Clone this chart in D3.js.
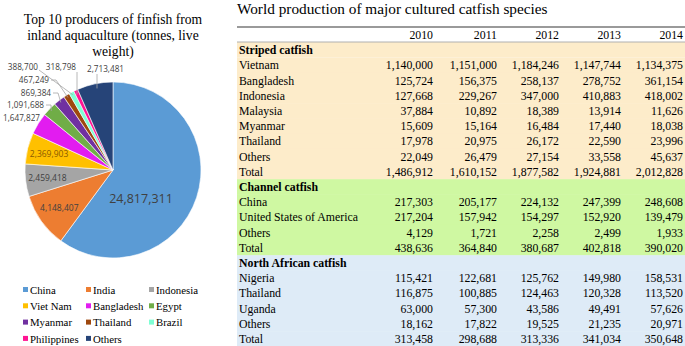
<!DOCTYPE html>
<html>
<head>
<meta charset="utf-8">
<script src="https://cdn.jsdelivr.net/npm/d3@7"></script>
<style>
  body { margin: 0; background: #fff; }
  svg { display: block; }
</style>
</head>
<body>
<svg id="chart" width="685" height="346"></svg>
<script>
// pie data
const producers = ['China', 'India', 'Indonesia', 'Viet Nam', 'Bangladesh', 'Egypt', 'Myanmar', 'Thailand', 'Brazil', 'Philippines', 'Others']
const tonnes = [24817311, 4148407, 2459418, 2369903, 1647827, 1091688, 869384, 467249, 388700, 318798, 2713481]
const sliceColors = ['#5b9bd5', '#ed7d31', '#a5a5a5', '#ffc000', '#e21cf0', '#70ad47', '#7030a0', '#9e480e', '#7fffd4', '#ff1493', '#264478']

// table data
const years = ['2010', '2011', '2012', '2013', '2014']
const stripedCountries = ['Vietnam', 'Bangladesh', 'Indonesia', 'Malaysia', 'Myanmar', 'Thailand', 'Others', 'Total']
const stripedValues = [
  [1140000, 1151000, 1184246, 1147744, 1134375],
  [125724, 156375, 258137, 278752, 361154],
  [127668, 229267, 347000, 410883, 418002],
  [37884, 10892, 18389, 13914, 11626],
  [15609, 15164, 16484, 17440, 18038],
  [17978, 20975, 26172, 22590, 23996],
  [22049, 26479, 27154, 33558, 45637],
  [1486912, 1610152, 1877582, 1924881, 2012828]
]
const channelCountries = ['China', 'United States of America', 'Others', 'Total']
const channelValues = [
  [217303, 205177, 224132, 247399, 248608],
  [217204, 157942, 154297, 152920, 139479],
  [4129, 1721, 2258, 2499, 1933],
  [438636, 364840, 380687, 402818, 390020]
]
const africanCountries = ['Nigeria', 'Thailand', 'Uganda', 'Others', 'Total']
const africanValues = [
  [115421, 122681, 125762, 149980, 158531],
  [116875, 100885, 124463, 120328, 113520],
  [63000, 57300, 43586, 49491, 57626],
  [18162, 17822, 19525, 21235, 20971],
  [313458, 298688, 313336, 341034, 350648]
]
const groups = [
  { name: 'Striped catfish', countries: stripedCountries, values: stripedValues, fill: '#fdecca' },
  { name: 'Channel catfish', countries: channelCountries, values: channelValues, fill: '#cff8a2' },
  { name: 'North African catfish', countries: africanCountries, values: africanValues, fill: '#deebf7' }
]

const svg = d3.select('#chart')
const serif = 'Liberation Serif, Times New Roman, serif'
const sans = 'Open Sans, Liberation Sans, sans-serif'
const fmt = d3.format(',')

// ---------- pie ----------
const cx = 113, cy = 170, r = 88

svg.append('text')
  .attr('font-family', serif)
  .attr('font-size', 13.6)
  .attr('fill', '#000')
  .attr('text-anchor', 'middle')
  .selectAll('tspan')
  .data(['Top 10 producers of finfish from', 'inland aquaculture (tonnes, live', 'weight)'])
  .enter()
  .append('tspan')
  .attr('x', cx)
  .attr('y', (d, i) => 24 + i * 16.2)
  .text(d => d)

const pie = d3.pie().sort(null).value(d => d)
const arcs = pie(tonnes)
const arc = d3.arc().innerRadius(0).outerRadius(r)

const pieG = svg.append('g').attr('transform', `translate(${cx},${cy})`)
pieG.selectAll('path')
  .data(arcs)
  .enter()
  .append('path')
  .attr('d', arc)
  .attr('fill', (d, i) => sliceColors[i])
  .attr('stroke', '#fff')
  .attr('stroke-width', 0.6)

// inside labels
const inner = d3.arc().innerRadius(r * 0.75).outerRadius(r * 0.75)
const insideColors = ['#404040', '#404040', '#404040', '#8a5a00']
arcs.slice(0, 4).forEach((d, i) => {
  let [x, y] = inner.centroid(d)
  if (i === 0) { x = 28; y = 29 }
  pieG.append('text')
    .attr('x', x)
    .attr('y', y)
    .attr('dy', '0.35em')
    .attr('text-anchor', 'middle')
    .attr('font-family', sans)
    .attr('font-size', i === 0 ? 12.5 : 8.5)
    .attr('fill', insideColors[i])
    .text(fmt(tonnes[i]))
})

// outside labels with leader lines (positions relative to pie centre)
const outsidePos = [null, null, null, null,
  [-73, -52], [-69, -65], [-62, -77], [-64, -90], [-75, -103], [-37, -103], [-26, -101]]
const anchors = [null, null, null, null, 'end', 'end', 'end', 'end', 'end', 'end', 'start']
const lineStarts = [null, null, null, null,
  null, [-67, -65], [-60, -77], [-62, -90], [-74, -100], [-36, -98], [-16, -96]]
arcs.forEach((d, i) => {
  if (i < 4) return
  const [lx, ly] = outsidePos[i]
  const mid = (d.startAngle + d.endAngle) / 2
  const ex = Math.sin(mid) * r * 0.97, ey = -Math.cos(mid) * r * 0.97
  const ls = lineStarts[i]
  if (ls) {
    let pts
    if (i >= 9) pts = [ls, [ls[0], ey + 2]]
    else if (i === 8) pts = [ls, [ex, ey]]
    else pts = [ls, [ls[0] + 5, ls[1]], [ex, ey]]
    pieG.append('path')
      .attr('d', d3.line()(pts))
      .attr('fill', 'none')
      .attr('stroke', '#a6a6a6')
      .attr('stroke-width', 0.8)
  }
  pieG.append('text')
    .attr('x', lx)
    .attr('y', ly)
    .attr('dy', '0.35em')
    .attr('text-anchor', anchors[i])
    .attr('font-family', sans)
    .attr('font-size', 8.2)
    .attr('fill', '#404040')
    .text(fmt(tonnes[i]))
})

// legend
const legendG = svg.append('g')
legendG.selectAll('g')
  .data(producers)
  .enter()
  .append('g')
  .attr('transform', (d, i) => `translate(${[23, 86, 149][i % 3]},${290 + Math.floor(i / 3) * 16.3})`)
  .each(function(d, i) {
    const g = d3.select(this)
    g.append('rect').attr('x', 0).attr('y', -3).attr('width', 5).attr('height', 5).attr('fill', sliceColors[i])
    g.append('text').attr('x', 7).attr('y', 0).attr('dy', '0.35em')
      .attr('font-family', serif).attr('font-size', 10.8).attr('fill', '#000').text(d)
  })

// ---------- table ----------
const tx0 = 237, tx1 = 685
const colRight = [433, 497, 559, 621, 683]
const rowH = 15.2
const firstRow = 50
const fs = 11.8

svg.append('text')
  .attr('x', tx0)
  .attr('y', 14)
  .attr('font-family', serif)
  .attr('font-size', 15.3)
  .attr('fill', '#000')
  .text('World production of major cultured catfish species')

// build flat row list
const rows = []
groups.forEach(g => {
  rows.push({ label: g.name, bold: true, fill: g.fill, vals: null })
  g.countries.forEach((c, j) => rows.push({ label: c, bold: false, fill: g.fill, vals: g.values[j] }))
})

const y = i => firstRow + i * rowH

svg.selectAll('rect.band')
  .data(rows)
  .enter()
  .append('rect')
  .attr('class', 'band')
  .attr('x', tx0)
  .attr('y', (d, i) => i === 0 ? 42 : y(i) - rowH / 2)
  .attr('width', tx1 - tx0)
  .attr('height', (d, i) => i === 0 ? y(0) + rowH / 2 - 42 : (i === rows.length - 1 ? 346 - (y(i) - rowH / 2) : rowH + 0.5))
  .attr('fill', d => d.fill)

svg.append('line').attr('x1', tx0).attr('x2', tx1).attr('y1', 27).attr('y2', 27)
  .attr('stroke', '#9a9a9a').attr('stroke-width', 2)
svg.append('line').attr('x1', tx0).attr('x2', tx1).attr('y1', 42).attr('y2', 42)
  .attr('stroke', '#b0b0b0').attr('stroke-width', 1)

svg.append('g').selectAll('text')
  .data(years)
  .enter()
  .append('text')
  .attr('x', (d, i) => colRight[i])
  .attr('y', 35)
  .attr('dy', '0.35em')
  .attr('text-anchor', 'end')
  .attr('font-family', serif)
  .attr('font-size', fs)
  .text(d => d)

const rowG = svg.append('g').selectAll('g')
  .data(rows)
  .enter()
  .append('g')
  .attr('transform', (d, i) => `translate(0,${y(i)})`)

rowG.append('text')
  .attr('x', tx0 + 2)
  .attr('dy', '0.35em')
  .attr('font-family', serif)
  .attr('font-size', fs)
  .attr('font-weight', d => d.bold ? 'bold' : 'normal')
  .text(d => d.label)

rowG.each(function(d) {
  if (!d.vals) return
  d3.select(this).selectAll('text.v')
    .data(d.vals)
    .enter()
    .append('text')
    .attr('class', 'v')
    .attr('x', (v, i) => colRight[i])
    .attr('dy', '0.35em')
    .attr('text-anchor', 'end')
    .attr('font-family', serif)
    .attr('font-size', fs)
    .text(v => fmt(v))
})
</script>
</body>
</html>
